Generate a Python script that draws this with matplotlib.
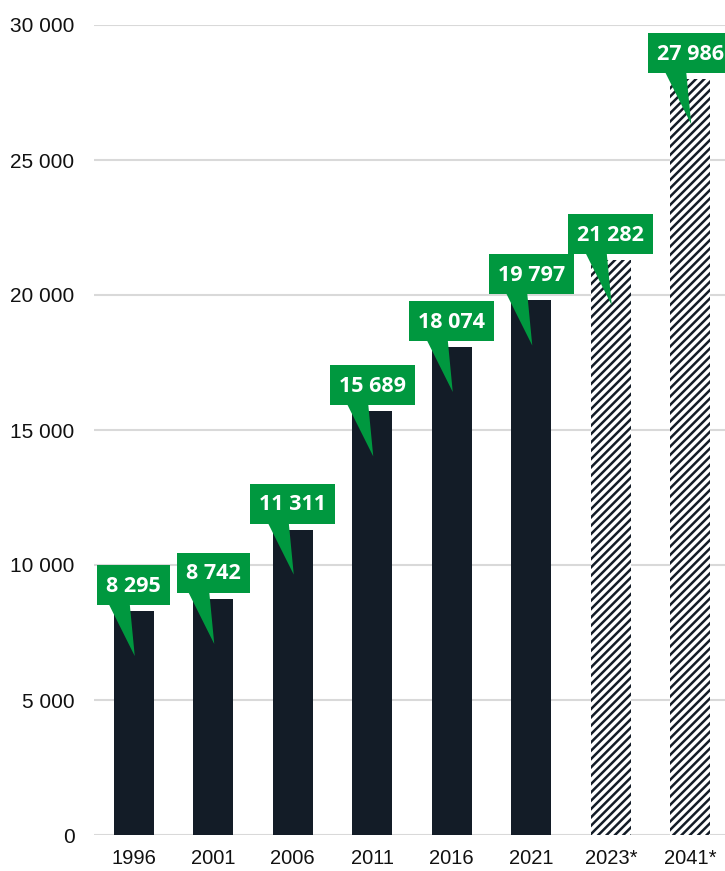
import matplotlib
matplotlib.use("Agg")
import matplotlib.pyplot as plt
from matplotlib.patches import Polygon, Rectangle
from matplotlib.transforms import IdentityTransform

# Data
years = ["1996", "2001", "2006", "2011", "2016", "2021", "2023*", "2041*"]
values = [8295, 8742, 11311, 15689, 18074, 19797, 21282, 27986]
forecast = [False, False, False, False, False, False, True, True]

navy = "#131c27"
green = "#00983f"

plt.rcParams["font.family"] = ["Liberation Sans", "DejaVu Sans"]
plt.rcParams["hatch.linewidth"] = 1.8

fig = plt.figure(figsize=(7.25, 8.71), dpi=100)
ax = fig.add_axes([94 / 725, 36 / 871, (730 - 94) / 725, 810 / 871])

x = list(range(len(years)))
for i, (v, f) in enumerate(zip(values, forecast)):
    if f:
        ax.bar(i, v, width=0.5, color="white", edgecolor=navy,
               hatch="////", linewidth=0, zorder=2)
    else:
        ax.bar(i, v, width=0.5, color=navy, linewidth=0, zorder=2)

ax.set_xlim(-0.5, 7.5)
ax.set_ylim(0, 30000)
ax.set_yticks(range(0, 30001, 5000))
ax.set_yticklabels([f"{t:,}".replace(",", " ") for t in range(0, 30001, 5000)])
ax.set_xticks(x)
ax.set_xticklabels(years)
ax.tick_params(axis="both", length=0, colors="#111111")
ax.tick_params(axis="y", pad=14, labelsize=15)
ax.tick_params(axis="x", pad=10, labelsize=14.5)
ax.grid(axis="y", color="#d9d9d9", linewidth=1.5, zorder=0)
ax.set_axisbelow(True)
for s in ax.spines.values():
    s.set_visible(False)

# Green value callouts with pointer
fig.canvas.draw()
renderer = fig.canvas.get_renderer()
for i, v in enumerate(values):
    cx, top = ax.transData.transform((i, v))
    box_bottom = top + 6
    box_h = 40
    label = f"{v:,}".replace(",", " ")
    t = fig.text(cx, box_bottom + box_h / 2 - 1, label, transform=IdentityTransform(),
                 ha="center", va="center", color="white", fontsize=15.5,
                 fontweight="bold", family=["Open Sans", "DejaVu Sans"], zorder=6)
    w = t.get_window_extent(renderer).width + 18
    fig.add_artist(Rectangle((cx - w / 2, box_bottom), w, box_h,
                             transform=IdentityTransform(), facecolor=green,
                             edgecolor="none", zorder=5))
    fig.add_artist(Polygon([(cx - 25, box_bottom + 1), (cx - 4, box_bottom + 1),
                            (cx + 1, top - 45)],
                           closed=True, transform=IdentityTransform(),
                           facecolor=green, edgecolor="none", zorder=5))

fig.savefig("out.png", dpi=100)
